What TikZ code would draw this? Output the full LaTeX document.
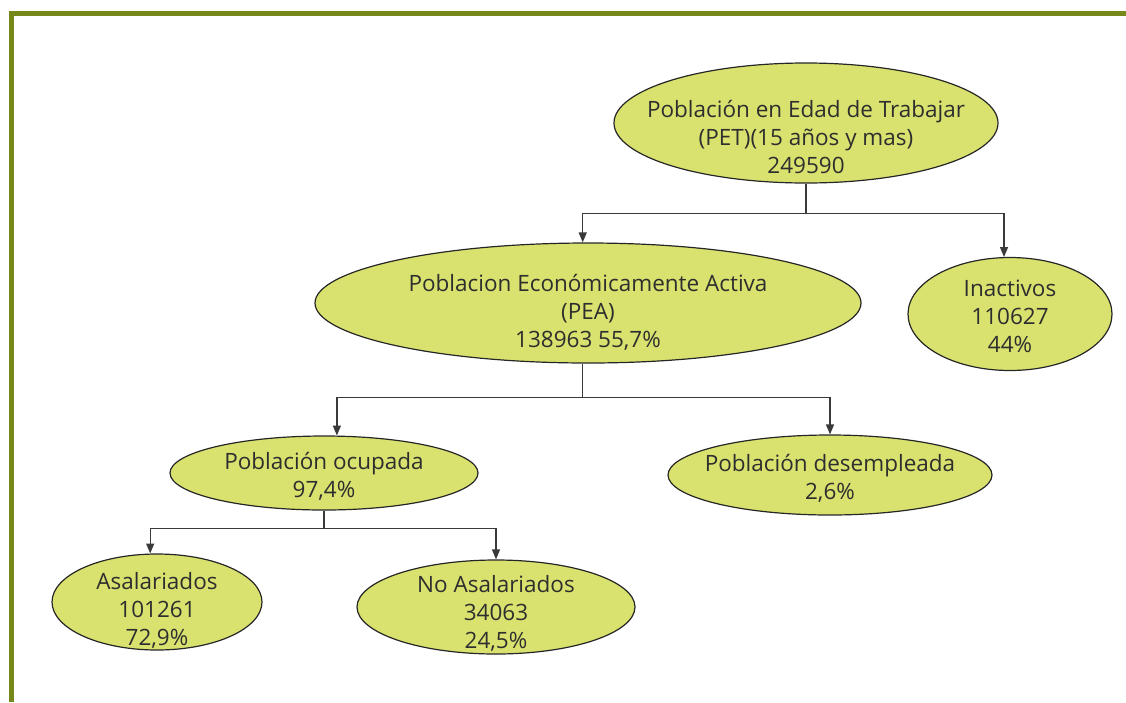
\documentclass[tikz,border=0pt]{standalone}
\usepackage{fontspec}
\setmainfont{Open Sans}
\usetikzlibrary{shapes.geometric,arrows.meta}
\definecolor{framegreen}{HTML}{76881A}
\definecolor{bubblefill}{HTML}{D9E26F}
\definecolor{textgray}{HTML}{2E2E2E}
\definecolor{linegray}{HTML}{3A3A3A}

\begin{document}
\begin{tikzpicture}[x=1pt,y=-1pt,
    bubble/.style={ellipse,draw=black!85,line width=1.2pt,fill=bubblefill,
      inner sep=-30pt,align=center,text=textgray,text depth=0pt,
      font=\fontsize{22.5}{28}\selectfont},
    arr/.style={draw=linegray,line width=1.3pt,-{Triangle[length=10pt,width=8pt]}},
    stem/.style={draw=linegray,line width=1.3pt}]
    \useasboundingbox (0,0) rectangle (1126,702);
    \draw[framegreen,line width=5pt] (11.5,702) -- (11.5,13.5) -- (1126,13.5);

    \node[bubble,minimum width=384pt,minimum height=120pt,text height=100pt] (pet) at (806,123)
      {Población en Edad de Trabajar\\(PET)(15 años y mas)\\249590};
    \node[bubble,minimum width=546pt,minimum height=120pt,text height=88pt] (pea) at (588,303)
      {Poblacion Económicamente Activa\\(PEA)\\138963 55,7\%};
    \node[bubble,minimum width=204pt,minimum height=113pt,text height=76pt] (ina) at (1010,314)
      {Inactivos\\110627\\44\%};
    \node[bubble,minimum width=308pt,minimum height=74pt,text height=49pt] (ocu) at (324,473)
      {Población ocupada\\97,4\%};
    \node[bubble,minimum width=324pt,minimum height=80pt,text height=48pt] (des) at (830,475)
      {Población desempleada\\2,6\%};
    \node[bubble,minimum width=210pt,minimum height=96pt,text height=87pt] (asa) at (157,602)
      {Asalariados\\101261\\72,9\%};
    \node[bubble,minimum width=278pt,minimum height=94pt,text height=82pt] (noasa) at (496,607)
      {No Asalariados\\34063\\24,5\%};

    \draw[stem] (pet.south) -- ++(0,30) coordinate (b1);
    \draw[arr] (b1) -| (pea.95);
    \draw[arr] (b1) -| (ina.96);
    \draw[stem] (pea.265) -- ++(0,34) coordinate (b2);
    \draw[arr] (b2) -| (ocu.71);
    \draw[arr] (b2) -| (des.north);
    \draw[stem] (ocu.south) -- ++(0,18) coordinate (b3);
    \draw[arr] (b3) -| (asa.98);
    \draw[arr] (b3) -| (noasa.north);
\end{tikzpicture}
\end{document}
